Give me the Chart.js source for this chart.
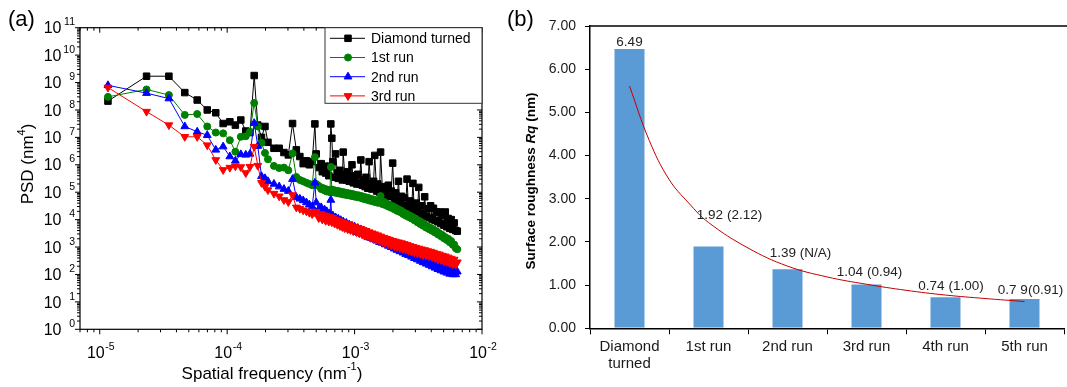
<!DOCTYPE html>
<html>
<head>
<meta charset="utf-8">
<title>PSD and surface roughness</title>
<script src="https://cdn.jsdelivr.net/npm/chart.js@4.4.0/dist/chart.umd.min.js"></script>
<style>
  html, body { margin: 0; padding: 0; background: #fff; }
  #wrap { position: relative; width: 1067px; height: 387px; overflow: hidden; }
  .panel { position: absolute; top: 0; height: 387px; }
  #panelA { left: 0; width: 510px; }
  #panelB { left: 490px; width: 577px; }
</style>
</head>
<body>
<div id="wrap">
  <div class="panel" id="panelA"><canvas id="psdChart"></canvas></div>
  <div class="panel" id="panelB"><canvas id="rqChart"></canvas></div>
</div>
<script>
const FONT = "'Liberation Sans', Arial, Helvetica, sans-serif";

// ---- (a) PSD curves ----
// spatial frequency of each sample (nm^-1)
const freq = [
  1.16e-5, 2.33e-5, 3.49e-5, 4.65e-5, 5.82e-5, 6.98e-5, 8.14e-5, 9.30e-5, 1.05e-4, 1.16e-4,
  1.28e-4, 1.40e-4, 1.51e-4, 1.63e-4, 1.74e-4, 1.86e-4, 1.98e-4, 2.09e-4, 2.33e-4, 2.56e-4,
  2.79e-4, 3.02e-4, 3.26e-4, 3.49e-4, 3.72e-4, 3.95e-4, 4.19e-4, 4.42e-4, 4.65e-4,
  4.88e-4, 5.00e-4, 5.23e-4, 5.47e-4, 5.58e-4, 5.82e-4, 5.93e-4, 6.05e-4, 6.28e-4, 6.40e-4,
  6.51e-4, 6.63e-4, 6.75e-4, 6.98e-4, 7.09e-4, 7.33e-4, 7.44e-4, 7.68e-4, 7.79e-4, 8.02e-4,
  8.14e-4, 8.37e-4, 8.61e-4, 8.84e-4, 9.07e-4, 9.30e-4, 9.54e-4, 9.77e-4, 1.00e-3, 1.04e-3,
  1.06e-3, 1.09e-3, 1.12e-3, 1.15e-3, 1.17e-3, 1.21e-3, 1.23e-3, 1.27e-3, 1.30e-3, 1.34e-3,
  1.37e-3, 1.41e-3, 1.44e-3, 1.49e-3, 1.52e-3, 1.57e-3, 1.60e-3, 1.65e-3, 1.70e-3, 1.74e-3,
  1.79e-3, 1.84e-3, 1.88e-3, 1.94e-3, 1.99e-3, 2.05e-3, 2.09e-3, 2.15e-3, 2.21e-3, 2.27e-3,
  2.33e-3, 2.40e-3, 2.45e-3, 2.52e-3, 2.58e-3, 2.65e-3, 2.72e-3, 2.80e-3, 2.87e-3, 2.95e-3,
  3.02e-3, 3.11e-3, 3.19e-3, 3.28e-3, 3.36e-3, 3.45e-3, 3.55e-3, 3.65e-3, 3.74e-3, 3.85e-3,
  3.95e-3, 4.06e-3, 4.16e-3, 4.28e-3, 4.40e-3, 4.51e-3, 4.63e-3, 4.76e-3, 4.88e-3, 5.02e-3,
  5.15e-3, 5.29e-3, 5.43e-3, 5.58e-3, 5.73e-3, 5.90e-3, 6.05e-3, 6.22e-3, 6.40e-3
];

// PSD (nm^4)
const psdDiamond = [
  2.1e8, 1.7e9, 1.7e9, 4.3e8, 2.3e8, 1.0e8, 7.9e7, 3.2e7, 3.7e7, 2.8e7,
  4.3e7, 1.7e7, 1.5e7, 1.8e9, 2.8e7, 1.0e7, 2.5e7, 6.6e6, 4.0e6, 4.0e6,
  2.8e6, 2.3e6, 3.2e7, 3.5e6, 2.0e6, 1.1e6, 1.4e6, 1.0e6, 1.3e6,
  3.1e7, 2.5e6, 7.9e5, 1.1e6, 5.6e5, 8.9e5, 5.0e5, 7.1e5, 4.0e5, 8.9e5,
  3.1e7, 9.3e6, 1.3e6, 3.5e5, 2.5e6, 5.0e5, 3.2e5, 6.3e5, 4.0e5, 2.8e5,
  2.9e6, 4.5e5, 2.8e5, 5.6e5, 2.5e5, 4.0e5, 1.0e6, 2.2e5, 3.5e5, 2.0e5,
  4.5e5, 2.0e5, 1.5e6, 1.8e5, 2.8e5, 1.6e5, 3.5e5, 1.4e5, 1.3e6, 2.0e5,
  1.3e5, 2.5e5, 2.2e6, 1.1e5, 2.0e5, 1.0e5, 2.9e6, 1.6e5, 8.9e4, 1.4e5,
  7.9e4, 1.8e5, 7.1e4, 1.1e5, 1.15e6, 5.6e4, 9.5e4, 4.8e4, 2.5e5, 4.0e4,
  7.1e4, 3.3e4, 6.3e4, 3.0e4, 3.0e5, 2.7e4, 4.8e4, 2.4e4, 2.1e5, 2.1e4,
  4.0e4, 1.9e4, 1.5e5, 1.7e4, 3.2e4, 1.5e4, 6.8e4, 1.3e4, 2.5e4, 1.2e4,
  3.2e4, 1.05e4, 2.6e4, 9.3e3, 1.9e4, 8.3e3, 1.9e4, 7.2e3, 1.4e4, 6.3e3,
  1.9e4, 5.5e3, 1.1e4, 4.8e3, 1.0e4, 4.4e3, 7.6e3, 4.0e3, 3.8e3
];
const psdRun1 = [
  3.0e8, 5.6e8, 3.5e8, 6.6e7, 7.1e7, 2.5e7, 1.5e7, 1.4e7, 7.9e6, 3.0e6,
  1.05e7, 1.1e7, 1.6e7, 1.8e8, 2.5e7, 6.3e6, 2.7e6, 1.6e6, 9.1e5, 7.6e5,
  7.9e5, 6.3e5, 2.6e6, 3.6e5, 2.8e5, 2.5e5, 2.2e5, 2.0e5, 1.8e5,
  1.9e6, 2.0e5, 1.7e5, 1.3e5, 1.45e5, 1.15e5, 1.3e5, 1.07e5, 1.2e5, 1.0e5,
  8.3e5, 1.26e5, 1.0e5, 1.17e5, 9.5e4, 1.12e5, 9.1e4, 1.07e5, 8.7e4, 1.02e5,
  8.3e4, 9.8e4, 7.9e4, 9.3e4, 7.6e4, 8.9e4, 7.2e4, 8.5e4, 6.9e4, 7.9e4,
  6.5e4, 7.6e4, 6.2e4, 7.1e4, 5.75e4, 6.6e4, 5.4e4, 6.3e4, 5.0e4, 5.75e4,
  4.7e4, 5.4e4, 4.4e4, 5.0e4, 4.1e4, 4.7e4, 7.2e4, 3.7e4, 4.4e4, 3.4e4,
  3.9e4, 3.0e4, 3.5e4, 2.7e4, 3.1e4, 2.4e4, 2.75e4, 2.1e4, 2.4e4, 1.9e4,
  2.1e4, 1.6e4, 1.8e4, 1.4e4, 1.6e4, 1.26e4, 1.4e4, 1.1e4, 1.23e4, 9.5e3,
  1.07e4, 8.1e3, 9.1e3, 6.9e3, 7.8e3, 6.0e3, 6.8e3, 5.1e3, 5.75e3, 4.5e3,
  5.0e3, 3.9e3, 4.4e3, 3.4e3, 3.8e3, 2.9e3, 3.2e3, 2.5e3, 2.75e3, 2.1e3,
  2.3e3, 1.8e3, 2.0e3, 1.5e3, 1.66e3, 1.2e3, 1.23e3, 9.1e2, 8.3e2
];
const psdRun2 = [
  7.9e8, 4.1e8, 2.6e8, 2.5e7, 1.6e7, 1.2e7, 3.5e6, 4.6e6, 2.0e6, 1.4e6,
  2.4e6, 2.3e6, 2.5e6, 3.3e7, 4.8e6, 3.8e5, 3.2e5, 2.5e5, 2.0e5, 1.6e5,
  1.3e5, 1.1e5, 3.0e5, 6.6e4, 5.75e4, 5.0e4, 4.2e4, 3.5e4, 3.0e4,
  2.2e5, 4.2e4, 2.4e4, 2.8e4, 1.8e4, 2.3e4, 1.5e4, 2.0e4, 1.23e4, 1.66e4,
  5.2e4, 1.05e4, 1.4e4, 8.9e3, 1.2e4, 7.8e3, 1.07e4, 6.9e3, 9.5e3, 6.2e3,
  8.5e3, 5.5e3, 7.6e3, 4.9e3, 6.6e3, 4.4e3, 6.0e3, 4.0e3, 5.5e3, 3.5e3,
  4.9e3, 3.2e3, 4.4e3, 2.9e3, 4.0e3, 2.6e3, 3.5e3, 2.3e3, 3.2e3, 2.1e3,
  2.9e3, 1.9e3, 2.6e3, 1.7e3, 2.3e3, 1.5e3, 2.1e3, 1.4e3, 1.9e3, 1.23e3,
  1.66e3, 1.1e3, 1.5e3, 9.8e2, 1.3e3, 8.7e2, 1.2e3, 7.8e2, 1.07e3, 6.9e2,
  9.5e2, 6.2e2, 8.5e2, 5.5e2, 7.6e2, 5.0e2, 6.8e2, 4.4e2, 6.0e2, 3.9e2,
  5.4e2, 3.5e2, 4.8e2, 3.1e2, 4.3e2, 2.75e2, 3.8e2, 2.45e2, 3.4e2, 2.2e2,
  3.0e2, 1.95e2, 2.7e2, 1.74e2, 2.4e2, 1.55e2, 2.1e2, 1.4e2, 1.9e2, 1.26e2,
  1.74e2, 1.15e2, 1.6e2, 1.05e2, 1.5e2, 1.0e2, 1.4e2, 1.0e2, 1.26e2
];
const psdRun3 = [
  6.6e8, 8.7e7, 2.8e7, 1.05e7, 1.05e7, 5.2e6, 1.5e6, 6.5e5, 7.9e5, 8.9e5,
  8.3e5, 5.0e5, 8.5e5, 4.6e6, 9.3e5, 2.2e5, 1.6e5, 1.2e5, 8.9e4, 7.1e4,
  5.2e4, 4.4e4, 7.9e4, 2.8e4, 2.5e4, 2.2e4, 2.0e4, 1.8e4, 1.6e4,
  1.9e4, 1.95e4, 1.15e4, 1.6e4, 1.02e4, 1.45e4, 9.1e3, 1.35e4, 8.5e3, 1.26e4,
  1.1e4, 8.1e3, 1.17e4, 7.2e3, 1.02e4, 6.5e3, 9.3e3, 5.9e3, 8.5e3, 5.4e3,
  7.8e3, 4.9e3, 7.1e3, 4.5e3, 6.5e3, 4.2e3, 5.9e3, 3.8e3, 5.5e3, 3.5e3,
  5.0e3, 3.2e3, 4.6e3, 2.9e3, 4.2e3, 2.6e3, 3.9e3, 2.45e3, 3.5e3, 2.2e3,
  3.2e3, 2.0e3, 2.95e3, 1.86e3, 2.7e3, 1.7e3, 2.45e3, 1.55e3, 2.2e3, 1.4e3,
  2.0e3, 1.3e3, 1.86e3, 1.17e3, 1.7e3, 1.07e3, 1.6e3, 1.0e3, 1.5e3, 9.3e2,
  1.4e3, 8.7e2, 1.3e3, 8.1e2, 1.2e3, 7.6e2, 1.1e3, 6.9e2, 1.02e3, 6.5e2,
  9.5e2, 6.0e2, 8.9e2, 5.6e2, 8.3e2, 5.2e2, 7.8e2, 4.9e2, 7.2e2, 4.6e2,
  6.8e2, 4.3e2, 6.3e2, 4.0e2, 5.75e2, 3.6e2, 5.4e2, 3.4e2, 4.9e2, 3.1e2,
  4.6e2, 2.9e2, 4.2e2, 2.6e2, 3.8e2, 2.4e2, 3.5e2, 2.3e2, 2.8e2
];
const psdNames = ['Diamond turned', '1st run', '2nd run', '3rd run'];
const xExponents = [-5, -4, -3, -2];
const yExponents = [0, 1, 2, 3, 4, 5, 6, 7, 8, 9, 10, 11];

// ---- (b) roughness per run ----
const runLabels = [['Diamond', 'turned'], '1st run', '2nd run', '3rd run', '4th run', '5th run'];
const rqValues = [6.49, 1.92, 1.39, 1.04, 0.74, 0.70];
const rqLabels = ['6.49', '1.92 (2.12)', '1.39 (N/A)', '1.04 (0.94)', '0.74 (1.00)', '0.7 9(0.91)'];
// trend curve, position in run index units
const trendPos = [0, 0.25, 0.5, 0.75, 1, 1.5, 2, 2.5, 3, 3.5, 4, 4.5, 5];
const trendVal = [5.61, 4.35, 3.45, 2.90, 2.45, 1.86, 1.44, 1.19, 1.02, 0.88, 0.77, 0.69, 0.62];
const rqTicks = [0, 1, 2, 3, 4, 5, 6, 7];

const seriesStyles = [
  { color: '#000000', pointStyle: 'rect', radius: 4.6, rotation: 0 },
  { color: '#008000', pointStyle: 'circle', radius: 3.5, rotation: 0 },
  { color: '#0000ff', pointStyle: 'triangle', radius: 4.5, rotation: 0 },
  { color: '#ff0000', pointStyle: 'triangle', radius: 4.5, rotation: 180 }
];
// label offsets (px) from the top centre of each bar
const rqLabelOffsets = [[0, -6], [21, -30], [13, -15], [3, -11], [5.5, -9.6], [6, -8]];

// minor + major tick values of a log axis
function logSteps(min, max) {
  const out = [];
  for (let e = Math.floor(Math.log10(min)); e <= Math.ceil(Math.log10(max)); e++) {
    for (let m = 1; m < 10; m++) {
      const v = m * Math.pow(10, e);
      if (v >= min * 0.999 && v <= max * 1.001) out.push({ v, major: m === 1 });
    }
  }
  return out;
}

// "10" with a raised exponent
function drawPower(ctx, exp, x, y, align) {
  const big = '16px ' + FONT, small = '10.5px ' + FONT;
  const base = '10', sup = String(exp);
  ctx.font = big; const wb = ctx.measureText(base).width;
  ctx.font = small; const ws = ctx.measureText(sup).width;
  ctx.textAlign = 'left';
  ctx.textBaseline = 'alphabetic';
  if (align === 'center') {
    const start = x - (wb + ws + 0.5) / 2;
    ctx.font = big; ctx.fillText(base, start, y);
    ctx.font = small; ctx.fillText(sup, start + wb + 0.5, y - 8);
  } else {
    // y axis: base at a fixed column, exponent right-aligned to the axis
    ctx.font = big; ctx.fillText(base, x - 18.5 - wb, y);
    ctx.font = small; ctx.fillText(sup, x - 5 - ws, y - 8);
  }
}

const psdDecor = {
  id: 'psdDecor',
  afterDraw(chart) {
    const { ctx, chartArea: a } = chart;
    const sx = chart.scales.x, sy = chart.scales.y;
    ctx.save();
    ctx.strokeStyle = '#000';
    ctx.lineWidth = 1.2;
    ctx.strokeRect(a.left, a.top, a.right - a.left, a.bottom - a.top);

    ctx.lineWidth = 1;
    ctx.beginPath();
    logSteps(sx.min, sx.max).forEach(t => {
      const px = sx.getPixelForValue(t.v);
      const len = t.major ? 5 : 3;
      ctx.moveTo(px, a.bottom); ctx.lineTo(px, a.bottom + len);
      ctx.moveTo(px, a.top); ctx.lineTo(px, a.top + len);
    });
    logSteps(sy.min, sy.max).forEach(t => {
      const py = sy.getPixelForValue(t.v);
      const len = t.major ? 5 : 3;
      ctx.moveTo(a.left, py); ctx.lineTo(a.left - len, py);
      ctx.moveTo(a.right, py); ctx.lineTo(a.right - len, py);
    });
    ctx.stroke();

    ctx.fillStyle = '#000';
    xExponents.forEach(e => drawPower(ctx, e, sx.getPixelForValue(Math.pow(10, e)) + 1, a.bottom + 28.7, 'center'));
    yExponents.forEach(e => drawPower(ctx, e, a.left, sy.getPixelForValue(Math.pow(10, e)) + 5.7, 'right'));

    // axis titles
    ctx.textBaseline = 'alphabetic';
    ctx.textAlign = 'left';
    ctx.font = '17px ' + FONT;
    const t1 = 'Spatial frequency (nm', t2 = '-1', t3 = ')';
    const w1 = ctx.measureText(t1).width, w3 = ctx.measureText(t3).width;
    ctx.font = '11px ' + FONT;
    const w2 = ctx.measureText(t2).width;
    let tx = a.left + 192 - (w1 + w2 + w3) / 2;
    ctx.font = '17px ' + FONT; ctx.fillText(t1, tx, 379);
    ctx.font = '11px ' + FONT; ctx.fillText(t2, tx + w1, 370);
    ctx.font = '17px ' + FONT; ctx.fillText(t3, tx + w1 + w2, 379);

    ctx.save();
    ctx.translate(33, 164);
    ctx.rotate(-Math.PI / 2);
    const p1 = 'PSD (nm', p2 = '4', p3 = ')';
    ctx.font = '17px ' + FONT;
    const q1 = ctx.measureText(p1).width, q3 = ctx.measureText(p3).width;
    ctx.font = '11px ' + FONT;
    const q2 = ctx.measureText(p2).width;
    let ty = -(q1 + q2 + q3) / 2;
    ctx.font = '17px ' + FONT; ctx.fillText(p1, ty, 0);
    ctx.font = '11px ' + FONT; ctx.fillText(p2, ty + q1, -8);
    ctx.font = '17px ' + FONT; ctx.fillText(p3, ty + q1 + q2, 0);
    ctx.restore();

    // legend box
    const lg = { left: a.right - 157, top: a.top, w: 157, h: 75.6 };
    ctx.fillStyle = '#fff';
    ctx.fillRect(lg.left, lg.top, lg.w, lg.h);
    ctx.strokeStyle = '#333';
    ctx.lineWidth = 1;
    ctx.strokeRect(lg.left, lg.top, lg.w, lg.h);
    ctx.font = '14px ' + FONT;
    ctx.textBaseline = 'middle';
    psdNames.forEach((name, i) => {
      const st = seriesStyles[i];
      const cy = lg.top + 10.6 + i * 19.2;
      ctx.strokeStyle = st.color;
      ctx.beginPath();
      ctx.moveTo(lg.left + 5, cy); ctx.lineTo(lg.left + 40, cy);
      ctx.stroke();
      ctx.fillStyle = st.color;
      Chart.helpers.drawPoint(ctx, {
        pointStyle: st.pointStyle, radius: st.radius, rotation: st.rotation, borderWidth: 1
      }, lg.left + 23, cy);
      ctx.fillStyle = '#000';
      ctx.fillText(name, lg.left + 46, cy + 1);
    });

    ctx.font = '22px ' + FONT;
    ctx.textBaseline = 'alphabetic';
    ctx.fillText('(a)', 8, 26);
    ctx.restore();
  }
};

const psdSeries = [psdDiamond, psdRun1, psdRun2, psdRun3];
new Chart(document.getElementById('psdChart'), {
  type: 'line',
  data: {
    datasets: psdSeries.map((vals, i) => {
      const st = seriesStyles[i];
      return {
        label: psdNames[i],
        data: freq.map((f, j) => ({ x: f, y: vals[j] })),
        borderColor: st.color,
        backgroundColor: st.color,
        borderWidth: 1,
        pointStyle: st.pointStyle,
        pointRadius: st.radius,
        pointRotation: st.rotation,
        pointBorderWidth: 1,
        tension: 0,
        order: 3 - i
      };
    })
  },
  options: {
    responsive: true,
    maintainAspectRatio: false,
    animation: false,
    layout: { padding: { left: 0, right: 28, top: 27.7, bottom: 0 } },
    plugins: { legend: { display: false }, tooltip: { enabled: false } },
    scales: {
      x: {
        type: 'logarithmic', min: 7.0e-6, max: 1e-2,
        grid: { display: false }, border: { display: false }, ticks: { display: false },
        afterFit: s => { s.height = 57.7; }
      },
      y: {
        type: 'logarithmic', min: 1, max: 1e11,
        grid: { display: false }, border: { display: false }, ticks: { display: false },
        afterFit: s => { s.width = 80; }
      }
    }
  },
  plugins: [psdDecor]
});

// ---- (b) ----
const rqDecor = {
  id: 'rqDecor',
  afterDatasetsDraw(chart) {
    const { ctx } = chart;
    const bars = chart.getDatasetMeta(1).data;
    ctx.save();
    ctx.fillStyle = '#222';
    ctx.font = '13.5px ' + FONT;
    ctx.textAlign = 'center';
    ctx.textBaseline = 'middle';
    bars.forEach((bar, i) => {
      const [dx, dy] = rqLabelOffsets[i];
      ctx.fillText(rqLabels[i], bar.x + dx, bar.y + dy);
    });
    ctx.restore();
  },
  afterDraw(chart) {
    const { ctx, chartArea: a } = chart;
    ctx.save();
    ctx.strokeStyle = '#000';
    ctx.lineWidth = 1.5;
    ctx.beginPath();
    ctx.moveTo(a.left, a.top); ctx.lineTo(a.right + 3, a.top);
    ctx.stroke();

    // y title with italic symbol
    const parts = [['Surface roughness ', 'bold'], ['Rq', 'italic bold'], [' (nm)', 'bold']];
    const widths = parts.map(([s, w]) => { ctx.font = w + ' 13.5px ' + FONT; return ctx.measureText(s).width; });
    const total = widths.reduce((p, c) => p + c, 0);
    ctx.translate(41, 181);
    ctx.rotate(-Math.PI / 2);
    ctx.fillStyle = '#000';
    ctx.textBaseline = 'middle';
    ctx.textAlign = 'left';
    let px = -total / 2;
    parts.forEach(([s, w], i) => {
      ctx.font = w + ' 13.5px ' + FONT;
      ctx.fillText(s, px, 0);
      px += widths[i];
    });
    ctx.restore();

    ctx.save();
    ctx.fillStyle = '#000';
    ctx.font = '22px ' + FONT;
    ctx.fillText('(b)', 17, 26);
    ctx.restore();
  }
};

new Chart(document.getElementById('rqChart'), {
  type: 'bar',
  data: {
    labels: runLabels,
    datasets: [
      {
        type: 'line',
        xAxisID: 'xt',
        data: trendPos.map((p, i) => ({ x: p, y: trendVal[i] })),
        borderColor: '#c00000',
        borderWidth: 1,
        pointRadius: 0,
        tension: 0.4,
        order: 0
      },
      {
        type: 'bar',
        xAxisID: 'x',
        data: rqValues,
        backgroundColor: '#5b9bd5',
        borderColor: 'rgba(255,255,255,0.55)',
        borderWidth: 1,
        barPercentage: 0.405,
        categoryPercentage: 1,
        grouped: false,
        order: 1
      }
    ]
  },
  options: {
    responsive: true,
    maintainAspectRatio: false,
    animation: false,
    layout: { padding: { left: 0, right: 3, top: 26, bottom: 0 } },
    plugins: { legend: { display: false }, tooltip: { enabled: false } },
    scales: {
      x: {
        type: 'category',
        grid: { drawOnChartArea: false, tickLength: 6, offset: true, color: '#000' },
        border: { color: '#000', width: 1.5 },
        ticks: { font: { family: FONT, size: 15, lineHeight: 1.15 }, color: '#1a1a1a', padding: 4, maxRotation: 0, autoSkip: false },
        afterFit: s => { s.height = 58.7; }
      },
      xt: {
        type: 'linear', axis: 'x', min: -0.5, max: 5.5, offset: false, display: false,
        grid: { offset: false }
      },
      y: {
        min: 0, max: 7,
        afterBuildTicks: s => { s.ticks = rqTicks.map(v => ({ value: v })); },
        grid: { drawOnChartArea: false, tickLength: 5, color: '#000' },
        border: { color: '#000', width: 1.5 },
        ticks: { font: { family: FONT, size: 14 }, color: '#1a1a1a', padding: 9, callback: v => Number(v).toFixed(2) },
        afterFit: s => { s.width = 100; }
      }
    }
  },
  plugins: [rqDecor]
});
</script>
</body>
</html>
